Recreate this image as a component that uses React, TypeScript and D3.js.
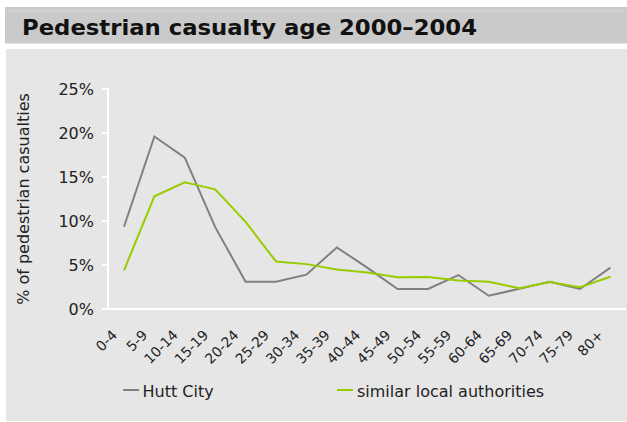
import React from "react";
import * as d3 from "d3";

const categories = ["0-4","5-9","10-14","15-19","20-24","25-29","30-34","35-39","40-44","45-49","50-54","55-59","60-64","65-69","70-74","75-79","80+"];
const huttCity = [9.35,19.6,17.2,9.3,3.1,3.1,3.9,7.0,4.7,2.27,2.27,3.86,1.5,2.3,3.1,2.27,4.7];
const similarLA = [4.4,12.8,14.4,13.6,9.9,5.4,5.1,4.5,4.15,3.6,3.64,3.25,3.1,2.35,3.07,2.47,3.67];
const yTicks = [0,5,10,15,20,25];

const W = 627, H = 422;
const FONT = "DejaVu Sans, Verdana, sans-serif";

export default function App() {
  const x = d3.scaleBand<string>().domain(categories).range([108.8, 625.6]);
  const y = d3.scaleLinear().domain([0, 25]).range([309, 89]);
  const cx = (c: string) => (x(c) as number) + x.bandwidth() / 2;
  const line = d3.line<number>().x((_, i) => cx(categories[i])).y(d => y(d));
  return (
    <svg width={W} height={H} style={{ position: "absolute", left: 0, top: 0, display: "block" }} fontFamily={FONT}>
      <rect x={0} y={0} width={W} height={H} fill="#ffffff" />
      <rect x={5} y={7} width={W - 5} height={36.5} fill="#cacaca" />
      <line x1={5} x2={W} y1={11} y2={11} stroke="#d6d6d6" strokeWidth={1} />
      <text x={22} y={35} fontSize={22} fontWeight="bold" fill="#111" textLength={455} lengthAdjust="spacingAndGlyphs">Pedestrian casualty age 2000–2004</text>
      <rect x={6} y={49} width={W - 6} height={372} fill="#e6e6e6" />
      {/* y axis */}
      <line x1={108} x2={108} y1={88} y2={310} stroke="#ffffff" strokeWidth={2} />
      {yTicks.map(t => (
        <g key={t}>
          <line x1={102} x2={108} y1={y(t)} y2={y(t)} stroke="#ffffff" strokeWidth={2} />
          <text x={94} y={y(t) + 6} fontSize={16} textAnchor="end" fill="#222">{t}%</text>
        </g>
      ))}
      <line x1={102} x2={626} y1={309} y2={309} stroke="#ffffff" strokeWidth={2} />
      <text transform={`translate(29,199) rotate(-90)`} fontSize={16} textAnchor="middle" fill="#222">% of pedestrian casualties</text>
      {categories.map(c => (
        <text key={c} transform={`translate(${cx(c) - 6},${336}) rotate(-45)`} fontSize={14} textAnchor="end" fill="#222">{c}</text>
      ))}
      <path d={line(huttCity) || ""} fill="none" stroke="#808080" strokeWidth={2} />
      <path d={line(similarLA) || ""} fill="none" stroke="#99cc00" strokeWidth={2} />
      {/* legend */}
      <line x1={123} x2={139} y1={390} y2={390} stroke="#808080" strokeWidth={2} />
      <text x={142.5} y={397} fontSize={16} fill="#222">Hutt City</text>
      <line x1={337} x2={353} y1={390} y2={390} stroke="#99cc00" strokeWidth={2} />
      <text x={357} y={397} fontSize={16} fill="#222">similar local authorities</text>
    </svg>
  );
}
